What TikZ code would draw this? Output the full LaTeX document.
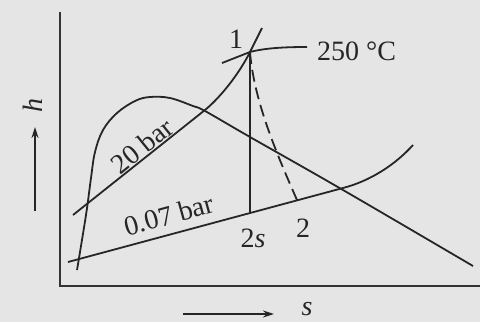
\documentclass[tikz,border=0pt]{standalone}
\usepackage{fontspec}
\setmainfont{Liberation Serif}
\usetikzlibrary{arrows.meta}
\begin{document}
\begin{tikzpicture}[x=1pt,y=-1pt,
  curve/.style={line width=1.8pt,draw=black!85,line join=round},
  axis/.style={line width=2.4pt,draw=black!80},
  lbl/.style={font=\fontsize{28}{32}\selectfont,text=black!85,inner sep=0pt},
  dirarrow/.style={line width=1.6pt,draw=black!85,-{Stealth[length=11pt,width=7pt]}}]
\useasboundingbox (0,0) rectangle (480,322);
\fill[black!10] (0,0) rectangle (480,322);
% points
\coordinate (p1) at (250,52);
\coordinate (p2s) at (250,213);
\coordinate (p2) at (297,200);
\coordinate (o) at (60,286);
\coordinate (ytop) at (60,12);
\coordinate (xend) at (480,286);
% axes
\draw[axis] (ytop) -- (o) -- (xend);
% saturation dome
\draw[curve] plot[smooth,tension=0.6] coordinates {(77,270) (86,215) (91,178) (95,152) (103,130) (117,113) (135,101) (150,97) (170,98) (193,106) (205,111) (250,137) (343,190) (473,266)};
% 20 bar isobar
\coordinate (a20) at (73,215);
\coordinate (b20) at (205,110);
\coordinate (e20) at (262,28);
\draw[curve] (a20) -- (b20) .. controls (222,96) and (240,72) .. (p1) .. controls (254,44) and (258,36) .. (e20);
% 250 C isotherm
\coordinate (t0) at (222,63);
\coordinate (t1) at (307,47);
\draw[curve] (t0) -- (p1) .. controls (265,48) and (285,47) .. (t1);
% 0.07 bar isobar
\coordinate (a07) at (68,262);
\coordinate (b07) at (343,188);
\coordinate (e07) at (413,145);
\draw[curve] (a07) -- (b07) .. controls (370,181) and (395,165) .. (e07);
% expansion lines
\draw[curve] (p1) -- (p2s);
\draw[curve,dash pattern=on 12pt off 6pt] (p1) .. controls (254,100) and (275,150) .. (p2);
% labels
\node[lbl] (l1) at (236,39) {1};
\node[lbl,anchor=west] (l250) at (317,51) {250 °C};
\node[lbl] (l2s) at (253,238) {2\textit{s}};
\node[lbl] (l2) at (303,228) {2};
\node[lbl,rotate=39] (l20) at (142,146) {20 bar};
\node[lbl,rotate=15.5] (l07) at (169,215) {0.07 bar};
% axis names
\coordinate (ha) at (35,211);
\coordinate (hb) at (35,127);
\draw[dirarrow] (ha) -- (hb);
\node[lbl,rotate=90] (lh) at (33,105) {\textit{h}};
\coordinate (sa) at (183,314);
\coordinate (sb) at (274,314);
\draw[dirarrow] (sa) -- (sb);
\node[lbl] (ls) at (307,309) {\textit{s}};
\end{tikzpicture}
\end{document}
